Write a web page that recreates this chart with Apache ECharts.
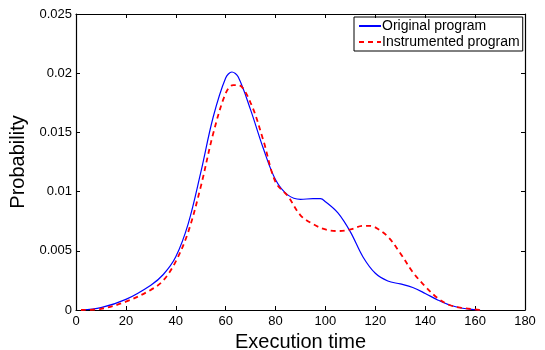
<!DOCTYPE html>
<html>
<head>
<meta charset="utf-8">
<script src="https://cdn.jsdelivr.net/npm/echarts@6/dist/echarts.min.js"></script>
<style>html,body{margin:0;padding:0;background:#fff}#c{width:545px;height:350px}</style>
</head>
<body>
<div id="c"></div>
<script>
const xTicks = [0, 20, 40, 60, 80, 100, 120, 140, 160, 180];
const yTicks = [0, 0.005, 0.01, 0.015, 0.02, 0.025];
const originalX = [2, 10, 20, 30, 35, 40, 45, 50, 55, 60, 62.5, 65, 70, 75, 80, 85, 90, 95, 98, 100, 105, 110, 115, 120, 125, 130, 135, 140, 145, 150, 155, 160, 162];
const originalY = [0, 0.0002, 0.0009, 0.0021, 0.003, 0.0045, 0.0073, 0.0116, 0.0163, 0.0196, 0.0201, 0.0197, 0.0169, 0.0137, 0.011, 0.0097, 0.00935, 0.0094, 0.0094, 0.00915, 0.0082, 0.0066, 0.0045, 0.0031, 0.00245, 0.0022, 0.0019, 0.0014, 0.00085, 0.0004, 0.00015, 0.00003, 0];
const instrumentedX = [2, 10, 20, 30, 35, 40, 45, 50, 55, 60, 63, 65, 70, 75, 80, 85, 90, 95, 100, 105, 110, 115, 118, 120, 125, 130, 135, 140, 145, 150, 155, 160, 163];
const instrumentedY = [0, 0.0001, 0.0007, 0.0017, 0.0025, 0.0041, 0.0066, 0.0104, 0.0149, 0.0183, 0.019, 0.019, 0.0175, 0.0144, 0.0108, 0.0096, 0.008, 0.00726, 0.0068, 0.00667, 0.0068, 0.0071, 0.0071, 0.00698, 0.0062, 0.0048, 0.0032, 0.002, 0.001, 0.0004, 0.00017, 0.00005, 0];
const seriesNames = ['Original program', 'Instrumented program'];
const xTitle = 'Execution time';
const yTitle = 'Probability';

const zip = (xs, ys) => xs.map((x, i) => [x, ys[i]]);
const font = '"Liberation Sans", Arial, Helvetica, sans-serif';
const chart = echarts.init(document.getElementById('c'), null, {renderer: 'canvas'});
const axLine = {show: true, onZero: false, lineStyle: {color: '#000', width: 1.2}};
const tick = {show: true, inside: true, length: 4, lineStyle: {color: '#000', width: 1}};
chart.setOption({
  animation: false,
  backgroundColor: '#fff',
  grid: {left: 76, right: 20, top: 14, bottom: 40, containLabel: false, outerBoundsMode: 'none'},
  legend: {
    data: seriesNames.map(n => ({name: n})),
    orient: 'vertical', left: 354, top: 17,
    borderColor: '#000', borderWidth: 1, padding: [2, 3, 2, 4],
    itemGap: 2, itemWidth: 22, itemHeight: 14,
    itemStyle: {opacity: 0},
    textStyle: {fontFamily: font, fontSize: 14, color: '#000', padding: [0, 0, 0, -4]}
  },
  xAxis: [{
    type: 'value', min: xTicks[0], max: xTicks[xTicks.length - 1], interval: 20,
    axisLine: axLine, axisTick: tick, splitLine: {show: false},
    axisLabel: {fontFamily: font, fontSize: 13, color: '#000', margin: 5},
    name: xTitle, nameLocation: 'middle', nameGap: 18,
    nameTextStyle: {fontFamily: font, fontSize: 20, color: '#000'}
  }, {
    type: 'value', position: 'top', min: xTicks[0], max: xTicks[xTicks.length - 1], interval: 20,
    axisLine: axLine, axisTick: tick, axisLabel: {show: false}, splitLine: {show: false}
  }],
  yAxis: [{
    type: 'value', min: yTicks[0], max: yTicks[yTicks.length - 1], interval: 0.005,
    axisLine: axLine, axisTick: tick, splitLine: {show: false},
    axisLabel: {fontFamily: font, fontSize: 13, color: '#000', margin: 4},
    name: yTitle, nameLocation: 'middle', nameGap: 38,
    nameTextStyle: {fontFamily: font, fontSize: 20, color: '#000'}
  }, {
    type: 'value', position: 'right', min: yTicks[0], max: yTicks[yTicks.length - 1], interval: 0.005,
    axisLine: axLine, axisTick: tick, axisLabel: {show: false}, splitLine: {show: false}
  }],
  series: [{
    name: seriesNames[0], type: 'line', smooth: 0.35, showSymbol: false, symbol: 'none',
    data: zip(originalX, originalY),
    lineStyle: {color: '#0000ff', width: 1.2, type: 'solid'},
    itemStyle: {color: '#0000ff'}
  }, {
    name: seriesNames[1], type: 'line', smooth: 0.35, showSymbol: false, symbol: 'none',
    data: zip(instrumentedX, instrumentedY),
    lineStyle: {color: '#ff0000', width: 1.8, type: [5, 4]},
    itemStyle: {color: '#ff0000'}
  }]
});
</script>
</body>
</html>
